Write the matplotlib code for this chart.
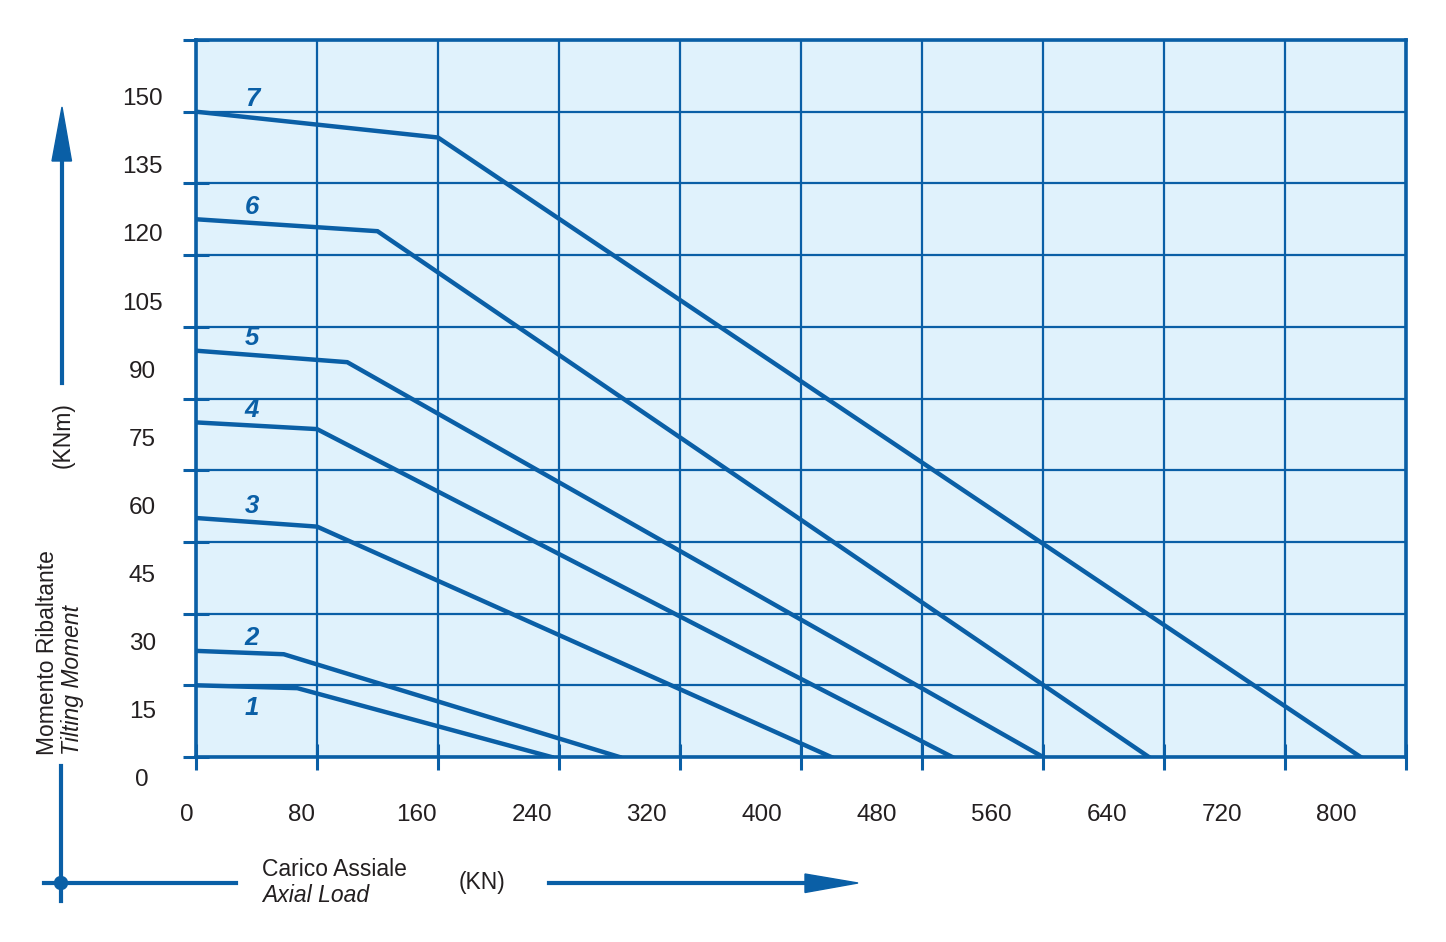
import numpy as np
import matplotlib.pyplot as plt
from matplotlib.patches import Polygon, Circle

# dati curve: carico assiale (KN) / momento ribaltante (KNm)
curve_names = ['1', '2', '3', '4', '5', '6', '7']
load_1 = [0, 67, 235]
moment_1 = [15, 14.4, 0]
load_2 = [0, 58, 280]
moment_2 = [22.2, 21.5, 0]
load_3 = [0, 80, 420]
moment_3 = [50, 48.2, 0]
load_4 = [0, 80, 500]
moment_4 = [70, 68.6, 0]
load_5 = [0, 100, 560]
moment_5 = [85, 82.6, 0]
load_6 = [0, 120, 630]
moment_6 = [112.5, 110, 0]
load_7 = [0, 160, 770]
moment_7 = [135, 129.6, 0]

x_ticks = [0, 80, 160, 240, 320, 400, 480, 560, 640, 720, 800]
y_ticks = [0, 15, 30, 45, 60, 75, 90, 105, 120, 135, 150]

loads = [load_1, load_2, load_3, load_4, load_5, load_6, load_7]
moments = [moment_1, moment_2, moment_3, moment_4, moment_5, moment_6, moment_7]

BLUE = '#0a5fa6'
BG = '#e0f2fc'
TXT = '#231f20'
W, H = 1446, 942
plt.rcParams['font.family'] = ['Liberation Sans', 'DejaVu Sans']


def box(x0, y0, x1, y1):
    # pixel (top-left origin) -> figure fraction
    return [x0 / W, (H - y1) / H, (x1 - x0) / W, (y1 - y0) / H]


fig = plt.figure(figsize=(W / 100, H / 100), dpi=100)

# griglia principale
ax = fig.add_axes(box(196, 40, 1406, 757))
ax.set_facecolor(BG)
ax.set_xlim(0, 800)
ax.set_ylim(0, 150)
ax.set_xticks(x_ticks)
ax.set_yticks(y_ticks)
ax.tick_params(axis='both', direction='inout', length=19, width=2.2,
               color=BLUE, labelbottom=False, labelleft=False)
ax.grid(True, color=BLUE, lw=1.6)
ax.set_axisbelow(True)
for s in ax.spines.values():
    s.set_color(BLUE)
    s.set_linewidth(2.6)

for name, xs, ys in zip(curve_names, loads, moments):
    ax.plot(xs, ys, color=BLUE, lw=3.2, solid_joinstyle='miter', zorder=3)
    ly = ys[0] - 4.8 if name == '1' else ys[0] + 2.6
    ax.text(37, ly, name, color=BLUE, fontsize=18.5, fontweight='bold',
            fontstyle='italic', ha='center', va='center', zorder=4)

# etichette dei valori (sfalsate rispetto alla griglia come nell'originale)
ax_lab = fig.add_axes(box(186.7, 99.3, 1336.7, 780))
ax_lab.patch.set_visible(False)
for s in ax_lab.spines.values():
    s.set_visible(False)
ax_lab.set_xlim(0, 800)
ax_lab.set_ylim(0, 150)
ax_lab.set_xticks(x_ticks)
ax_lab.set_yticks(y_ticks)
ax_lab.tick_params(axis='both', length=0, labelsize=17.5, labelcolor=TXT)
ax_lab.tick_params(axis='x', pad=17)
ax_lab.tick_params(axis='y', pad=32)
for t in ax_lab.get_yticklabels():
    t.set_ha('center')
    t.set_va('center')

# frecce e titoli assi
ov = fig.add_axes([0, 0, 1, 1], zorder=-1)
ov.set_xlim(0, W)
ov.set_ylim(H, 0)
ov.axis('off')

ov.plot([62, 62], [383, 158], color=BLUE, lw=3)
ov.add_patch(Polygon([(52, 161), (71.5, 161), (62, 107)], closed=True, color=BLUE))
ov.plot([61, 61], [766, 901], color=BLUE, lw=3)
ov.plot([44, 236], [883, 883], color=BLUE, lw=3)
ov.add_patch(Circle((61, 883), 6.5, color=BLUE))
ov.plot([549, 808], [883, 883], color=BLUE, lw=3)
ov.add_patch(Polygon([(805, 874), (805, 892.5), (858, 883)], closed=True, color=BLUE))

ov.text(47, 755, 'Momento Ribaltante', rotation=90, rotation_mode='anchor',
        ha='left', va='center', fontsize=16.5, color=TXT)
ov.text(73, 755, 'Tilting Moment', rotation=90, rotation_mode='anchor',
        ha='left', va='center', fontsize=16.5, fontstyle='italic', color=TXT)
ov.text(63, 435, '(KNm)', rotation=90, rotation_mode='anchor',
        ha='center', va='center', fontsize=16.5, color=TXT)
ov.text(262, 869, 'Carico Assiale', ha='left', va='center', fontsize=16.5, color=TXT)
ov.text(262, 896, 'Axial Load', ha='left', va='center', fontsize=16.5,
        fontstyle='italic', color=TXT)
ov.text(459, 883, '(KN)', ha='left', va='center', fontsize=16.5, color=TXT)

fig.savefig('out.png', dpi=100)
